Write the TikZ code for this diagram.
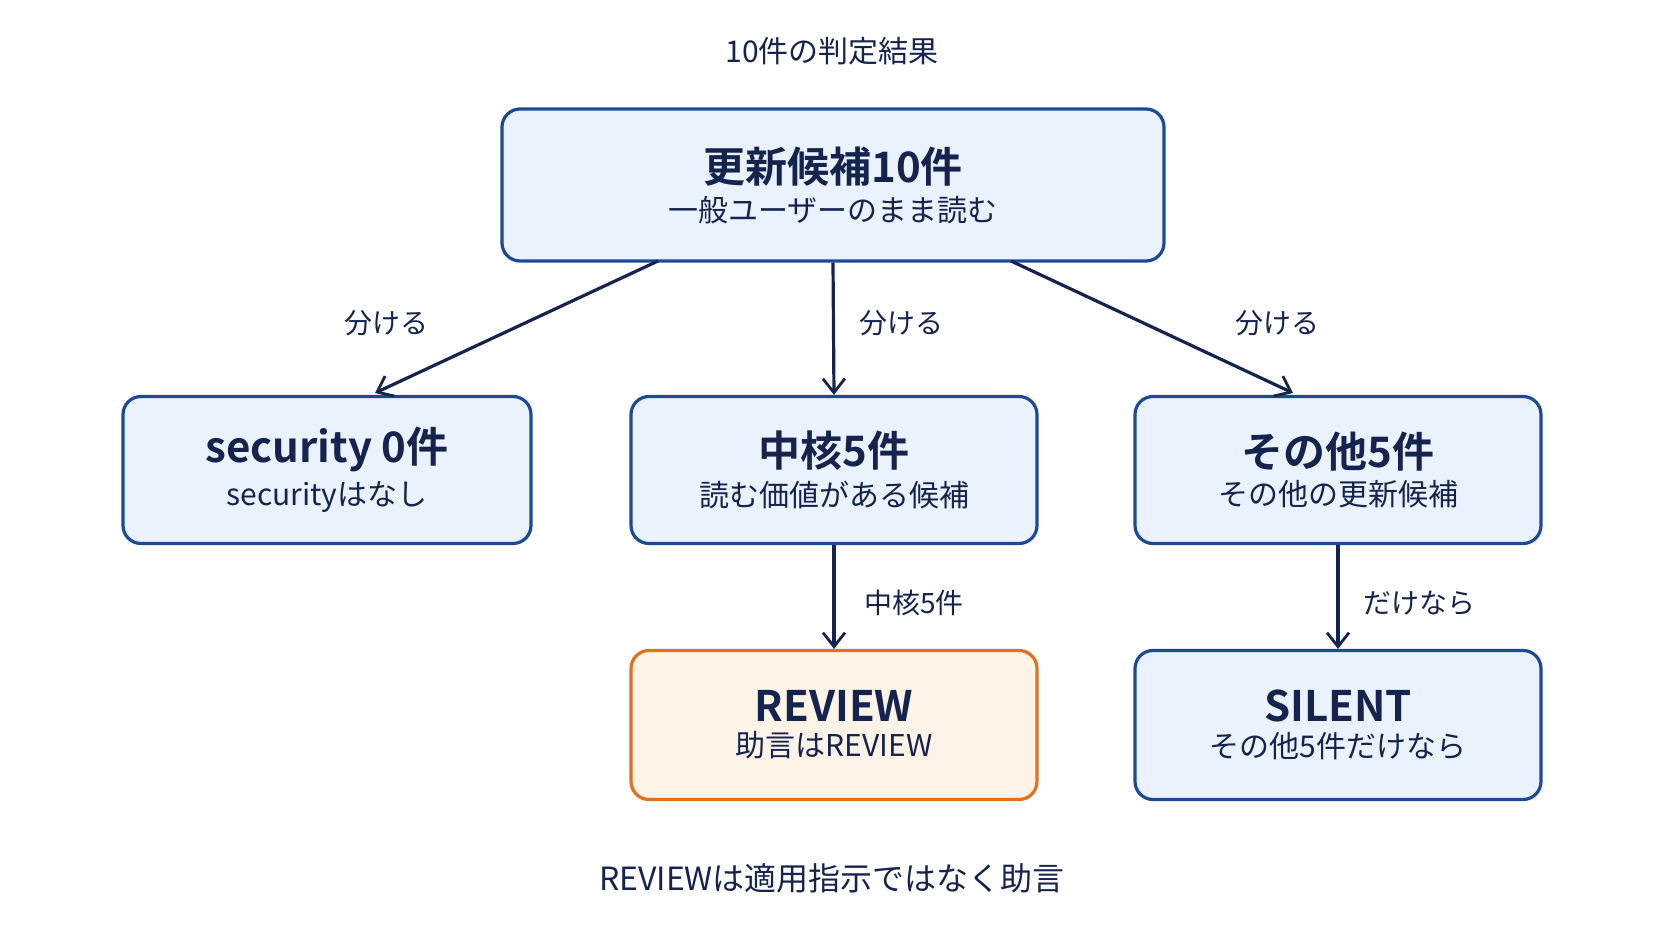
\documentclass[tikz,border=0pt]{standalone}
\usepackage{fontspec}
\setmainfont{Noto Sans CJK JP}[BoldFont={Noto Sans CJK JP Bold}]
\usetikzlibrary{positioning}
\usetikzlibrary{arrows.meta}
\definecolor{navy}{HTML}{15244F}
\definecolor{boxline}{HTML}{1D4A96}
\definecolor{boxfill}{HTML}{EAF2FD}
\definecolor{revline}{HTML}{E2701E}
\definecolor{revfill}{HTML}{FDF3E6}
\begin{document}
\begin{tikzpicture}[x=0.5pt, y=-0.5pt, ->, >={Straight Barb[length=7pt,width=11pt,line width=1.4pt]}, line width=1.6pt, draw=navy, text=navy]
				\tikzstyle{block}=[draw=boxline, fill=boxfill, rounded corners=9pt, line width=1.6pt, align=center, inner sep=0pt]
				\tikzstyle{review}=[block, draw=revline, fill=revfill]
				\tikzstyle{lbl}=[font=\fontsize{14}{16}\selectfont]
				\newcommand{\boxtext}[2]{{\fontsize{21}{26}\selectfont\bfseries #1}\\[4pt]{\fontsize{15}{18}\selectfont #2}}
				
				\useasboundingbox (0,0) rectangle (1672,941);
				
				\node[lbl, font=\fontsize{15}{18}\selectfont] (title) at (832,51) {10件の判定結果};
				\node[block, minimum width=331pt, minimum height=76pt] (cand) at (833,185) {\boxtext{更新候補10件}{一般ユーザーのまま読む}};
				
				\node[block, minimum width=204pt, minimum height=73.5pt] (sec) at (327,470) {\boxtext{security 0件}{securityはなし}};
				\node[block, minimum width=203pt, minimum height=73.5pt] (core) at (834,470) {\boxtext{中核5件}{読む価値がある候補}};
				\node[block, minimum width=203pt, minimum height=73.5pt] (other) at (1338,470) {\boxtext{その他5件}{その他の更新候補}};
				
				\node[review, minimum width=203pt, minimum height=74.5pt] (rev) at (834,725) {\boxtext{REVIEW}{助言はREVIEW}};
				\node[block, minimum width=203pt, minimum height=74.5pt] (sil) at (1338,725) {\boxtext{SILENT}{その他5件だけなら}};
				
				\node[lbl, font=\fontsize{16}{18}\selectfont] (note) at (832,878) {REVIEWは適用指示ではなく助言};
				
				\coordinate (c1) at (658,261);
				\coordinate (c3) at (1011,261);
				\coordinate (s1) at (375,393);
				\coordinate (s3) at (1293,393);
				
				\draw (c1) -- (s1);
				\draw (cand.south) -- (core.north);
				\draw (c3) -- (s3);
				\draw (core.south) -- (rev.north);
				\draw (other.south) -- (sil.north);
				
				\node[lbl] at (386,323) {分ける};
				\node[lbl] at (901,323) {分ける};
				\node[lbl] at (1277,323) {分ける};
				\node[lbl] at (914,603) {中核5件};
				\node[lbl] at (1419,603) {だけなら};
				
			\end{tikzpicture}
\end{document}
